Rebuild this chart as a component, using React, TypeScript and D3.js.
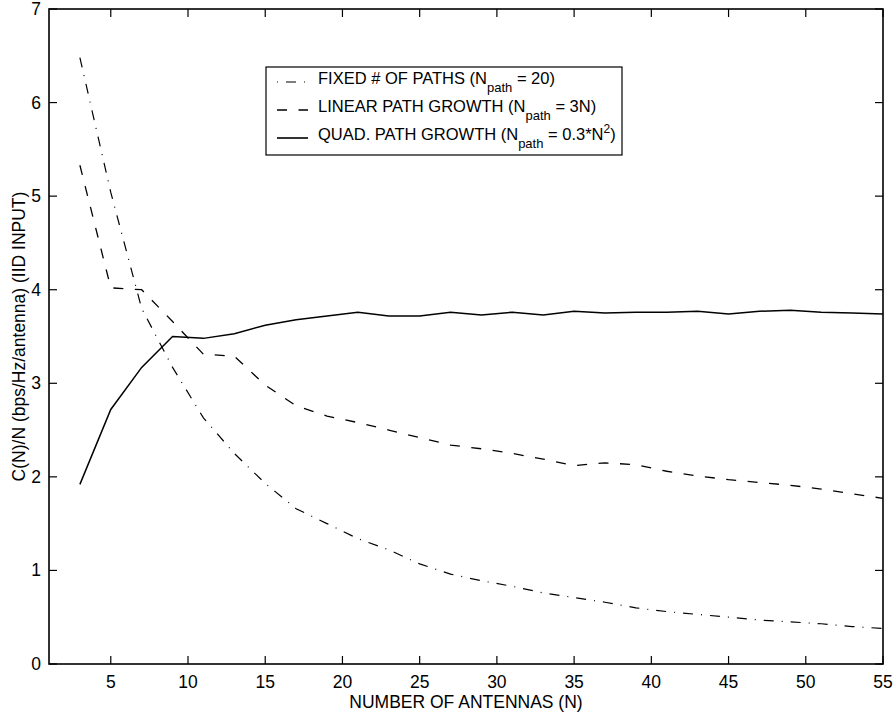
import React from 'react';
import * as d3 from 'd3';

// number of antennas (N)
const antennas = [3, 5, 7, 9, 11, 13, 15, 17, 19, 21, 23, 25, 27, 29, 31, 33, 35, 37, 39, 41, 43, 45, 47, 49, 51, 53, 55];

// C(N)/N for each path model
const fixedPaths = [6.48, 5.04, 3.8, 3.17, 2.63, 2.25, 1.93, 1.66, 1.5, 1.34, 1.22, 1.07, 0.96, 0.89, 0.83, 0.76, 0.71, 0.66, 0.6, 0.56, 0.53, 0.5, 0.47, 0.45, 0.43, 0.4, 0.38];
const linearGrowth = [5.33, 4.02, 4.0, 3.66, 3.31, 3.29, 2.98, 2.76, 2.65, 2.58, 2.5, 2.42, 2.34, 2.3, 2.25, 2.19, 2.12, 2.15, 2.13, 2.06, 2.01, 1.97, 1.94, 1.91, 1.87, 1.82, 1.77];
const quadGrowth = [1.92, 2.72, 3.17, 3.5, 3.48, 3.53, 3.62, 3.68, 3.72, 3.76, 3.72, 3.72, 3.76, 3.73, 3.76, 3.73, 3.77, 3.75, 3.76, 3.76, 3.77, 3.74, 3.77, 3.78, 3.76, 3.75, 3.74];

const xTicks = [5, 10, 15, 20, 25, 30, 35, 40, 45, 50, 55];
const yTicks = [0, 1, 2, 3, 4, 5, 6, 7];

const FONT = '"Liberation Sans", Arial, Helvetica, sans-serif';
const DASH_DOT = '10,8,1,8';
const DASHED = '10,11.5';

const App = () => {
  const width = 894;
  const height = 720;
  const left = 49, right = 883, top = 9, bottom = 664;

  const x = d3.scaleLinear().domain([1, 55]).range([left, right]);
  const y = d3.scaleLinear().domain([0, 7]).range([bottom, top]);

  const line = (vals: number[]) =>
    d3.line<number>()
      .x((_, i) => x(antennas[i]))
      .y(d => y(d))(vals) || '';

  const tick = 8;

  // legend geometry
  const lg = { x0: 266, y0: 67, x1: 622, y1: 155 };
  const rows = [84, 112, 140];
  const sx0 = 277, sx1 = 308, tx = 318;

  return (
    <svg width={width} height={height} style={{ position: 'absolute', left: 0, top: 0, background: '#fff', fontFamily: FONT }}>
      <rect x={0} y={0} width={width} height={height} fill="#fff" />

      {/* series */}
      <path d={line(fixedPaths)} fill="none" stroke="#000" strokeWidth={1.2} strokeDasharray={DASH_DOT} />
      <path d={line(linearGrowth)} fill="none" stroke="#000" strokeWidth={1.3} strokeDasharray={DASHED} />
      <path d={line(quadGrowth)} fill="none" stroke="#000" strokeWidth={1.5} />

      {/* axes box */}
      <rect x={left} y={top} width={right - left} height={bottom - top} fill="none" stroke="#000" strokeWidth={1.6} />

      {/* x ticks */}
      {xTicks.map(t => (
        <g key={`x-${t}`}>
          <line x1={x(t)} x2={x(t)} y1={bottom} y2={bottom - tick} stroke="#000" strokeWidth={1.2} />
          <line x1={x(t)} x2={x(t)} y1={top} y2={top + tick} stroke="#000" strokeWidth={1.2} />
          <text x={x(t)} y={bottom + 24} textAnchor="middle" fontSize={17.5} fill="#000">{t}</text>
        </g>
      ))}

      {/* y ticks */}
      {yTicks.map(t => (
        <g key={`y-${t}`}>
          <line x1={left} x2={left + tick} y1={y(t)} y2={y(t)} stroke="#000" strokeWidth={1.2} />
          <line x1={right} x2={right - tick} y1={y(t)} y2={y(t)} stroke="#000" strokeWidth={1.2} />
          <text x={left - 8} y={y(t) + 6} textAnchor="end" fontSize={17.5} fill="#000">{t}</text>
        </g>
      ))}

      {/* axis titles */}
      <text x={(left + right) / 2} y={708} textAnchor="middle" fontSize={17.5} fill="#000">NUMBER OF ANTENNAS (N)</text>
      <text transform={`translate(25, ${(top + bottom) / 2}) rotate(-90)`} textAnchor="middle" fontSize={17.5} fill="#000">
        C(N)/N (bps/Hz/antenna) (IID INPUT)
      </text>

      {/* legend */}
      <rect x={lg.x0} y={lg.y0} width={lg.x1 - lg.x0} height={lg.y1 - lg.y0} fill="#fff" stroke="#000" strokeWidth={1.2} />
      <line x1={sx0} x2={sx1} y1={rows[0] - 2} y2={rows[0] - 2} stroke="#000" strokeWidth={1.2} strokeDasharray={DASH_DOT} strokeDashoffset={18} />
      <line x1={sx0} x2={sx1} y1={rows[1] - 2} y2={rows[1] - 2} stroke="#000" strokeWidth={1.3} strokeDasharray={DASHED} />
      <line x1={sx0} x2={sx1} y1={rows[2] - 2} y2={rows[2] - 2} stroke="#000" strokeWidth={1.6} />

      <text x={tx} y={rows[0]} fontSize={16.5} fill="#000">
        FIXED # OF PATHS (N<tspan fontSize={13} dy={8}>path</tspan><tspan dy={-8}> = 20)</tspan>
      </text>
      <text x={tx} y={rows[1]} fontSize={16.5} fill="#000">
        LINEAR PATH GROWTH (N<tspan fontSize={13} dy={8}>path</tspan><tspan dy={-8}> = 3N)</tspan>
      </text>
      <text x={tx} y={rows[2]} fontSize={16.5} fill="#000">
        QUAD. PATH GROWTH (N<tspan fontSize={13} dy={8}>path</tspan><tspan dy={-8}> = 0.3*N</tspan><tspan fontSize={12} dy={-7}>2</tspan><tspan dy={7}>)</tspan>
      </text>
    </svg>
  );
};

export default App;
